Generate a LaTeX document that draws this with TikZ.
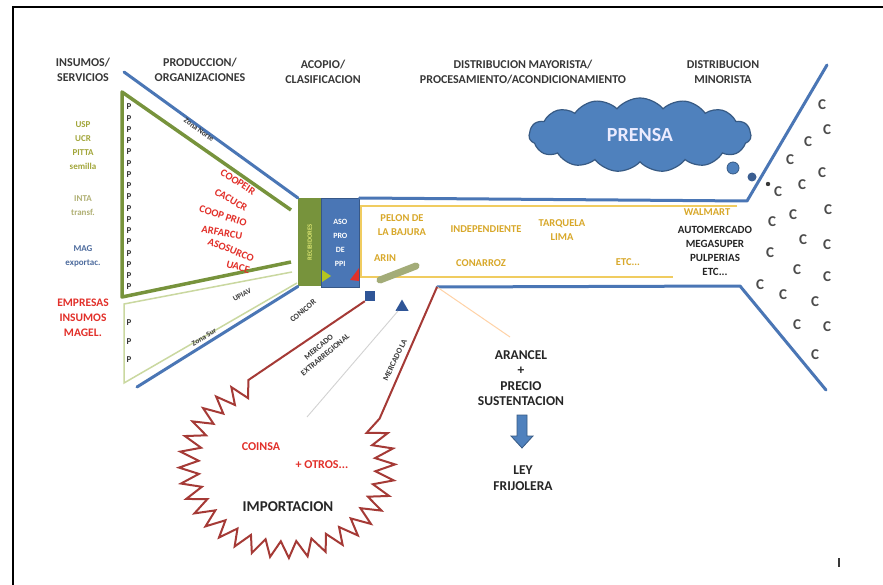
\documentclass[tikz,border=0pt]{standalone}
\usepackage{fontspec}
\setmainfont{Carlito}
\usetikzlibrary{shapes.symbols,shapes.geometric}

\definecolor{tubeblue}{HTML}{4A76B5}
\definecolor{cloudblue}{HTML}{4F81BD}
\definecolor{sqblue}{HTML}{2F5597}
\definecolor{olivegreen}{HTML}{77933C}
\definecolor{palegreen}{HTML}{CAD8A0}
\definecolor{barolive}{HTML}{A3AC78}
\definecolor{brick}{HTML}{A53A36}
\definecolor{gold}{HTML}{D8A82A}
\definecolor{goldline}{HTML}{F0CC60}
\definecolor{ink}{HTML}{383838}
\definecolor{cgrey}{HTML}{4C4C4C}
\definecolor{hotred}{HTML}{E2302A}
\definecolor{uspcol}{HTML}{A2A63A}
\definecolor{intacol}{HTML}{B0B074}
\definecolor{magcol}{HTML}{4E6C9E}

\tikzset{
  hdr/.style={font=\bfseries\fontsize{12}{15}\selectfont, text=ink, align=center, inner sep=0},
  side/.style={font=\bfseries\fontsize{9}{14}\selectfont, align=center, inner sep=0},
  goldtxt/.style={font=\bfseries\fontsize{10.5}{14}\selectfont, text=gold, align=center, inner sep=0},
  blktxt/.style={font=\bfseries\fontsize{11}{14}\selectfont, text=black!85, align=center, inner sep=0},
  redtxt/.style={font=\bfseries\fontsize{10.5}{13}\selectfont, text=hotred, inner sep=0},
  linelbl/.style={font=\bfseries\fontsize{7.5}{9}\selectfont, text=ink, align=center, inner sep=0},
  blueline/.style={draw=tubeblue, line width=3pt, line cap=round, line join=round},
  greenline/.style={draw=olivegreen, line width=3.5pt, line join=round},
  paleline/.style={draw=palegreen, line width=1.5pt},
  redline/.style={draw=brick, line width=2pt, line join=miter},
  prod/.style={font=\bfseries\fontsize{9}{9}\selectfont, text=ink, inner sep=0},
  client/.style={font=\bfseries\fontsize{15}{15}\selectfont, text=cgrey, inner sep=0},
}

\begin{document}
\begin{tikzpicture}[x=1pt,y=-1pt]
\useasboundingbox (0,0) rectangle (883,585);
\fill[white] (0,0) rectangle (883,585);
\draw[line width=2.2pt,black] (13,585) -- (13,7) -- (883,7);

% column headings
\node[hdr] (h1) at (83,70) {INSUMOS/\\SERVICIOS};
\node[hdr] (h2) at (200,70) {PRODUCCION/\\ORGANIZACIONES};
\node[hdr] (h3) at (323,72) {ACOPIO/\\CLASIFICACION};
\node[hdr] (h4) at (523,72) {DISTRIBUCION MAYORISTA/\\PROCESAMIENTO/ACONDICIONAMIENTO};
\node[hdr] (h5) at (723,72) {DISTRIBUCION\\MINORISTA};

% suppliers of inputs and services
\node[side, text=uspcol] (s1) at (83,146) {USP\\UCR\\PITTA\\semilla};
\node[side, text=intacol] (s2) at (83,206) {INTA\\transf.};
\node[side, text=magcol] (s3) at (83,256) {MAG\\exportac.};
\node[side, font=\bfseries\fontsize{11.5}{15}\selectfont, text=hotred] (s4) at (83,318) {EMPRESAS\\INSUMOS\\MAGEL.};

% collection boxes
\node[fill=olivegreen, minimum width=23, minimum height=88, inner sep=0, anchor=north west] (grn) at (298,198) {};
\node[rotate=90, font=\bfseries\fontsize{6.5}{7}\selectfont, text=palegreen!70!yellow] (grntxt) at (grn.center) {RECIBIDORES};
\node[fill=tubeblue, draw=tubeblue!75!black, line width=0.6pt, minimum width=38, minimum height=89, inner sep=0,
      anchor=north west, align=center, text=white, font=\bfseries\fontsize{8}{14}\selectfont] (asp) at (321,198) {ASO\\PRO\\DE\\PPI};
\fill[olivegreen!55!yellow] (322,270) -- (331,276) -- (322,282) -- cycle;
\fill[hotred] (350,280) -- (359,268) -- (359,281) -- cycle;

% producer funnels
\coordinate (gT) at (122,92);
\coordinate (gB) at (122,297);
\coordinate (gTR) at (291,210);
\coordinate (gBR) at (291,262);
\coordinate (pT) at (124,304);
\coordinate (pB) at (124,383);
\coordinate (pR1) at (292,272);
\coordinate (pR2) at (297,283);
\draw[paleline] (pR1) -- (pT) -- (pB) -- (pR2);
\draw[greenline] (gTR) -- (gT) -- (gB) -- (gBR);

\foreach \k in {0,...,16} \node[prod] at (129,{107+11.25*\k}) {P};
\foreach \yy in {323,342,360} \node[prod] at (129,\yy) {P};

% producer organisations
\node[redtxt, rotate=-33] at (238,182) {COOPEIR};
\node[redtxt, rotate=-30] at (231,200) {CACUCR};
\node[redtxt, rotate=-18] at (223,216) {COOP PRIO};
\node[redtxt, rotate=-10] at (222,233) {ARFARCU};
\node[redtxt, rotate=-22] at (231,250) {ASOSURCO};
\node[redtxt, rotate=-15] at (238,267) {UACE};
\node[linelbl, rotate=28] at (242,295) {UPIAV};

% outer funnel and distribution tube
\coordinate (bUL) at (124,72);
\coordinate (bLL) at (137,387);
\coordinate (tubeTR) at (747,201);
\coordinate (tubeBR) at (740,286);
\coordinate (tubeBL) at (437,287);
\coordinate (mouthT) at (827,65);
\coordinate (mouthB) at (826,390);
\draw[blueline] (bUL) -- (grn.north west);
\draw[blueline] (bLL) -- (grn.south west);
\draw[blueline] (asp.north east) -- (tubeTR) -- (mouthT);
\draw[blueline] (tubeBL) -- (tubeBR) -- (mouthB);
\node[linelbl, rotate=-36] at (199,130) {Zona Norte};
\node[linelbl, rotate=31] at (204,337) {Zona Sur};

% processing lane inside the tube
\draw[goldline, line width=1.2pt] (737,206) -- (361,206) -- (361,277) -- (673,277);
\node[goldtxt] (t1) at (402,225) {PELON DE\\LA BAJURA};
\node[goldtxt] (t2) at (486,229) {INDEPENDIENTE};
\node[goldtxt] (t3) at (562,230) {TARQUELA\\LIMA};
\node[goldtxt] (t4) at (385,258) {ARIN};
\node[goldtxt] (t5) at (481,263) {CONARROZ};
\node[goldtxt] (t6) at (628,262) {ETC...};
\node[goldtxt] (t7) at (707,212) {WALMART};
\node[blktxt] (t8) at (715,251) {AUTOMERCADO\\MEGASUPER\\PULPERIAS\\ETC...};
\draw[barolive, line width=7pt, line cap=round] (380,280) -- (416,266);

% press cloud
\node[cloud, cloud puffs=15, cloud puff arc=100, aspect=2.9, fill=cloudblue, draw=cloudblue!70!black,
      line width=1.2pt, minimum width=222, minimum height=74, inner sep=0, text=white!92!blue,
      font=\bfseries\fontsize{20}{20}\selectfont] (prensa) at (640,135) {PRENSA};
\fill[cloudblue, draw=cloudblue!70!black, line width=0.8pt] (733,168) circle (6);
\fill[tubeblue!80!black] (752,177) circle (4.5);
\fill[ink] (768,184) circle (2.2);

% consumers
\foreach \cx/\cy in {822/105, 827/130, 808/142, 790/160, 822/173, 802/185, 778/192,
                     828/210, 793/215, 772/222, 803/240, 827/245, 770/253, 797/270,
                     827/277, 760/285, 783/295, 815/302, 797/325, 827/327, 815/355}
  \node[client] at (\cx,\cy) {C};

% imports
\node[fill=sqblue, minimum size=10, inner sep=0] (sq) at (370,296) {};
\node[fill=sqblue, regular polygon, regular polygon sides=3, minimum size=15, inner sep=0] (tri) at (402,307) {};
\coordinate (greyend) at (307,417);
\draw[gray!35, line width=0.9pt] (tri.south west) -- (greyend);
\coordinate (tarifend) at (510,337);
\draw[orange!35, line width=1pt] (tubeBL) -- (tarifend);

\draw[redline] (sq.south west)
  \foreach \i [evaluate=\i as \a using 111+5*\i, evaluate=\i as \f using {1-0.18*mod(\i,2)}] in {0,...,56}
    { -- ({287+108*\f*cos(\a)},{466-92*\f*sin(\a)}) }
  -- (tubeBL);

\node[linelbl, font=\bfseries\fontsize{8}{10}\selectfont, rotate=40] at (303,311) {CONICOR};
\node[linelbl, font=\bfseries\fontsize{8}{10}\selectfont, rotate=40] at (322,351) {MERCADO\\EXTRARREGIONAL};
\node[linelbl, font=\bfseries\fontsize{8}{10}\selectfont, rotate=64] at (395,360) {MERCADO LA};

\node[redtxt, font=\bfseries\fontsize{12}{13}\selectfont] (coinsa) at (261,447) {COINSA};
\node[redtxt, font=\bfseries\fontsize{12}{13}\selectfont] (otros) at (322,465) {+ OTROS...};
\node[blktxt, font=\bfseries\fontsize{15}{16}\selectfont] (imp) at (288,507) {IMPORTACION};

% tariff and support price
\node[blktxt, font=\bfseries\fontsize{13.5}{15.5}\selectfont] (arancel) at (521,378) {ARANCEL\\+\\PRECIO\\SUSTENTACION};
\fill[cloudblue, draw=cloudblue!70!black, line width=0.8pt]
  (517,415) -- (527,415) -- (527,436) -- (533,436) -- (522,448) -- (511,436) -- (517,436) -- cycle;
\node[blktxt, font=\bfseries\fontsize{13.5}{15.5}\selectfont] (ley) at (523,478) {LEY\\FRIJOLERA};

\draw[ink, line width=1.5pt] (839,558) -- (839,567);
\end{tikzpicture}
\end{document}
